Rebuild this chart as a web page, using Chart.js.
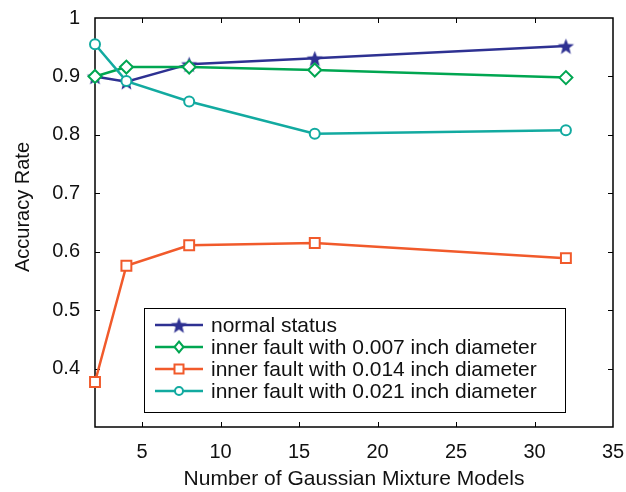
<!DOCTYPE html>
<html><head><meta charset="utf-8">
<script src="https://cdn.jsdelivr.net/npm/chart.js@4/dist/chart.umd.min.js"></script>
<style>html,body{margin:0;padding:0;background:#fff}canvas{display:block}</style>
</head><body>
<canvas id="c" width="626" height="492"></canvas>
<script>
// ---- data ----
const gmmCounts = [2, 4, 8, 16, 32];
const normalStatus = [0.900, 0.891, 0.921, 0.931, 0.952];
const fault007 = [0.900, 0.916, 0.916, 0.911, 0.898];
const fault014 = [0.377, 0.576, 0.611, 0.615, 0.589];
const fault021 = [0.955, 0.892, 0.857, 0.802, 0.808];
const seriesLabels = ['normal status', 'inner fault with 0.007 inch diameter', 'inner fault with 0.014 inch diameter', 'inner fault with 0.021 inch diameter'];
const xTicks = [5, 10, 15, 20, 25, 30, 35];
const yTicks = [0.4, 0.5, 0.6, 0.7, 0.8, 0.9, 1];
const xTitle = 'Number of Gaussian Mixture Models';
const yTitle = 'Accuracy Rate';

// ---- styles ----
const FONT = 'Liberation Sans, Arial, Helvetica, sans-serif';
const colors = ['#2e3192', '#00a651', '#f15a2b', '#12aaa0'];
const styles = ['star', 'rectRot', 'rect', 'circle'];

function makeStar(color, R, r) {
  const c = document.createElement('canvas');
  const s = Math.ceil(R * 2 + 2);
  c.width = s; c.height = s;
  const g = c.getContext('2d');
  g.fillStyle = color;
  g.beginPath();
  for (let i = 0; i < 10; i++) {
    const rad = (i % 2 === 0) ? R : r;
    const ang = -Math.PI / 2 + i * Math.PI / 5;
    const px = s / 2 + rad * Math.cos(ang), py = s / 2 + 1 + rad * Math.sin(ang);
    if (i === 0) g.moveTo(px, py); else g.lineTo(px, py);
  }
  g.closePath(); g.fill();
  return c;
}
const starImg = makeStar(colors[0], 8.5, 3.6);

const seriesValues = [normalStatus, fault007, fault014, fault021];
const datasets = seriesValues.map((vals, i) => ({
  label: seriesLabels[i],
  data: gmmCounts.map((x, k) => ({x: x, y: vals[k]})),
  borderColor: colors[i],
  backgroundColor: colors[i],
  borderWidth: 2.5,
  pointStyle: i === 0 ? starImg : styles[i],
  pointRadius: i === 0 ? 8 : (i === 2 ? 7 : (i === 1 ? 6.5 : 5)),
  pointBorderWidth: 2,
  pointBorderColor: colors[i],
  pointBackgroundColor: i === 0 ? colors[0] : '#ffffff',
  tension: 0,
  clip: false,
  order: 4 - i
}));

// frame and inward ticks
const framePlugin = {
  id: 'frame',
  beforeDatasetsDraw(chart) {
    const {ctx, chartArea: a, scales: {x, y}} = chart;
    ctx.save();
    ctx.strokeStyle = '#000';
    ctx.lineWidth = 1.5;
    ctx.strokeRect(a.left, a.top, a.right - a.left, a.bottom - a.top);
    ctx.lineWidth = 1;
    const tl = 5;
    ctx.beginPath();
    x.ticks.forEach(t => {
      const px = Math.round(x.getPixelForValue(t.value)) + 0.5;
      if (px <= a.left + 1 || px >= a.right - 1) return;
      ctx.moveTo(px, a.bottom); ctx.lineTo(px, a.bottom - tl);
      ctx.moveTo(px, a.top); ctx.lineTo(px, a.top + tl);
    });
    y.ticks.forEach(t => {
      const py = Math.round(y.getPixelForValue(t.value)) + 0.5;
      if (py <= a.top + 1 || py >= a.bottom - 1) return;
      ctx.moveTo(a.left, py); ctx.lineTo(a.left + tl, py);
      ctx.moveTo(a.right, py); ctx.lineTo(a.right - tl, py);
    });
    ctx.stroke();
    // y axis title (placed slightly above the axis centre, as in the reference)
    ctx.fillStyle = '#111';
    ctx.font = '20px ' + FONT;
    ctx.textAlign = 'center';
    ctx.textBaseline = 'middle';
    ctx.translate(23, 207);
    ctx.rotate(-Math.PI / 2);
    ctx.fillText(yTitle, 0, 0);
    ctx.restore();
  }
};

// in-plot legend box
const LEG = {x: 144, y: 308, w: 421, h: 104, row0: 325, step: 22, lineX0: 155, lineX1: 203, textX: 211};
function drawMarker(ctx, i, cx, cy) {
  ctx.save();
  ctx.strokeStyle = colors[i]; ctx.fillStyle = '#fff'; ctx.lineWidth = 2;
  if (i === 0) {
    ctx.drawImage(starImg, cx - starImg.width / 2, cy - starImg.height / 2);
  } else if (i === 1) {
    ctx.beginPath();
    ctx.moveTo(cx, cy - 5.5); ctx.lineTo(cx + 4.5, cy); ctx.lineTo(cx, cy + 5.5); ctx.lineTo(cx - 4.5, cy); ctx.closePath();
    ctx.fill(); ctx.stroke();
  } else if (i === 2) {
    ctx.beginPath(); ctx.rect(cx - 4.5, cy - 4.5, 9, 9); ctx.fill(); ctx.stroke();
  } else {
    ctx.beginPath(); ctx.arc(cx, cy, 4, 0, Math.PI * 2); ctx.fill(); ctx.stroke();
  }
  ctx.restore();
}
const legendPlugin = {
  id: 'inlegend',
  afterDatasetsDraw(chart) {
    const ctx = chart.ctx;
    ctx.save();
    ctx.fillStyle = '#fff';
    ctx.fillRect(LEG.x, LEG.y, LEG.w, LEG.h);
    ctx.strokeStyle = '#000'; ctx.lineWidth = 1;
    ctx.strokeRect(LEG.x + 0.5, LEG.y + 0.5, LEG.w, LEG.h);
    chart.data.datasets.forEach((ds, i) => {
      const cy = LEG.row0 + i * LEG.step;
      ctx.strokeStyle = colors[i]; ctx.lineWidth = 2.5;
      ctx.beginPath(); ctx.moveTo(LEG.lineX0, cy); ctx.lineTo(LEG.lineX1, cy); ctx.stroke();
      drawMarker(ctx, i, (LEG.lineX0 + LEG.lineX1) / 2, cy);
      ctx.fillStyle = '#111';
      ctx.font = '21px ' + FONT;
      ctx.textBaseline = 'middle';
      ctx.textAlign = 'left';
      ctx.fillText(ds.label, LEG.textX, cy + 1);
    });
    ctx.restore();
  }
};

new Chart(document.getElementById('c'), {
  type: 'line',
  data: {datasets: datasets},
  options: {
    responsive: false,
    animation: false,
    devicePixelRatio: 1,
    layout: {autoPadding: false, padding: {left: 0, right: 13, top: 18, bottom: 0}},
    plugins: {legend: {display: false}, tooltip: {enabled: false}},
    scales: {
      x: {
        type: 'linear', min: 2, max: 35,
        afterBuildTicks: s => { s.ticks = xTicks.map(v => ({value: v})); },
        afterFit: s => { s.height = 65; s.paddingLeft = 0; s.paddingRight = 0; },
        grid: {display: false, drawTicks: false},
        border: {display: false},
        ticks: {font: {size: 20, family: FONT}, color: '#111', padding: 13, maxRotation: 0, autoSkip: false},
        title: {display: true, text: xTitle, font: {size: 21, family: FONT}, color: '#111', padding: {top: 0, bottom: 0}}
      },
      y: {
        type: 'linear', min: 0.3, max: 1,
        afterBuildTicks: s => { s.ticks = yTicks.map(v => ({value: v})); },
        afterFit: s => { s.width = 95; s.paddingTop = 0; s.paddingBottom = 0; },
        grid: {display: false, drawTicks: false},
        border: {display: false},
        ticks: {font: {size: 20, family: FONT}, color: '#111', padding: 15, autoSkip: false,
          callback: v => String(+Number(v).toFixed(1))},
        title: {display: false}
      }
    }
  },
  plugins: [framePlugin, legendPlugin]
});
</script>
</body></html>
